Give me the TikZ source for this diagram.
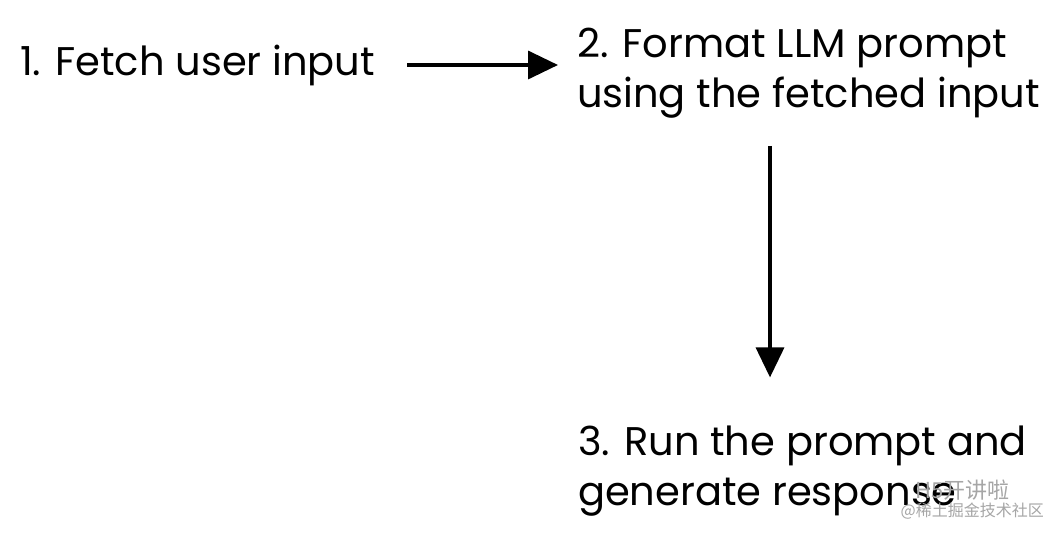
\documentclass[tikz,border=0pt]{standalone}
\usepackage{fontspec}
\setmainfont{Poppins}
\newfontfamily\cjk{Noto Sans CJK SC}
\usetikzlibrary{arrows.meta}
\begin{document}
\begin{tikzpicture}[x=1pt,y=-1pt,
  label/.style={inner sep=0pt, outer sep=0pt, align=left, font=\fontsize{40}{50}\selectfont, text=black},
  arr/.style={line width=3.5pt, -{Triangle[length=30pt,width=28pt]}},
  wm/.style={inner sep=0pt, text=black!35, font=\cjk}
]
\useasboundingbox[fill=white] (0,0) rectangle (1062,534);
\node[label, anchor=base west] (n1) at (20,76) {1. Fetch user input};
\node[label, anchor=base west] (n2) at (577,108) {2. Format LLM prompt\\using the fetched input};
\node[label, anchor=base west] (n3) at (578,505) {3. Run the prompt and\\generate response};
\coordinate (a1) at (407,65);
\coordinate (v) at (770,0);
\draw[arr, shorten >=19pt] (a1) -- (a1 -| n2.west);
\draw[arr, shorten <=27pt, shorten >=48pt] (n2.south -| v) -- (n3.north -| v);
\node[wm, anchor=base west, font=\cjk\fontsize{22}{22}\selectfont] (w1) at (915,498) {H5开讲啦};
\node[wm, anchor=base east, font=\cjk\fontsize{16}{16}\selectfont] (w2) at (1044,516) {@稀土掘金技术社区};
\end{tikzpicture}
\end{document}
